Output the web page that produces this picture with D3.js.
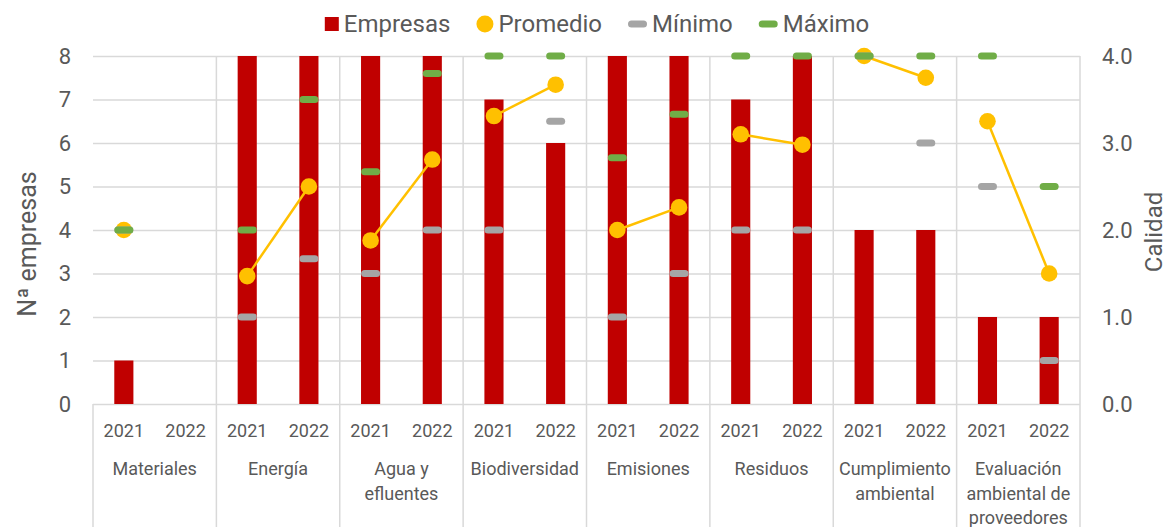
<!DOCTYPE html>
<html>
<head>
<meta charset="utf-8">
<script src="https://cdn.jsdelivr.net/npm/d3@7"></script>
<style>
  body { margin: 0; background: #fff; }
  svg text { font-family: Roboto, "Noto Sans", sans-serif; fill: #595959; }
</style>
</head>
<body>
<div id="viz"></div>
<script>
// data (pairs are [2021, 2022])
const years = ['2021', '2022']
const categories = ['Materiales', 'Energía', 'Agua y efluentes', 'Biodiversidad', 'Emisiones',
  'Residuos', 'Cumplimiento ambiental', 'Evaluación ambiental de proveedores']
const categoryLines = [['Materiales'], ['Energía'], ['Agua y', 'efluentes'], ['Biodiversidad'],
  ['Emisiones'], ['Residuos'], ['Cumplimiento', 'ambiental'], ['Evaluación', 'ambiental de', 'proveedores']]
const empresas = [[1, 0], [8, 8], [8, 8], [7, 6], [8, 8], [7, 8], [4, 4], [2, 2]]
const promedio = [[2.0, null], [1.47, 2.5], [1.88, 2.81], [3.31, 3.67], [2.0, 2.26], [3.1, 2.98], [4.0, 3.75], [3.25, 1.5]]
const minimo = [[2.0, null], [1.0, 1.67], [1.5, 2.0], [2.0, 3.25], [1.0, 1.5], [2.0, 2.0], [4.0, 3.0], [2.5, 0.5]]
const maximo = [[2.0, null], [2.0, 3.5], [2.67, 3.8], [4.0, 4.0], [2.83, 3.33], [4.0, 4.0], [4.0, 4.0], [4.0, 2.5]]
const leftTicks = [0, 1, 2, 3, 4, 5, 6, 7, 8]
const rightTicks = [0, 1, 2, 3, 4]

const colors = { empresas: '#C00000', promedio: '#FFC000', minimo: '#A5A5A5', maximo: '#70AD47', grid: '#D9D9D9' }

const W = 1170, H = 527
const plot = { left: 93, right: 1080, top: 56, bottom: 404 }

const svg = d3.select('#viz').append('svg').attr('width', W).attr('height', H)

const xGroup = d3.scaleBand().domain(categories).range([plot.left, plot.right]).padding(0)
const xYear = d3.scaleBand().domain(years).range([0, xGroup.bandwidth()])
  .paddingInner(0.69).paddingOuter(0.345)
const yLeft = d3.scaleLinear().domain([0, 8]).range([plot.bottom, plot.top])
const yRight = d3.scaleLinear().domain([0, 4]).range([plot.bottom, plot.top])

const cx = (ci, yi) => xGroup(categories[ci]) + xYear(years[yi]) + xYear.bandwidth() / 2

// horizontal gridlines
svg.append('g')
  .attr('transform', `translate(${plot.left},0)`)
  .call(d3.axisLeft(yLeft).tickValues(leftTicks).tickSize(-(plot.right - plot.left)).tickFormat(''))
  .call(g => g.select('.domain').remove())
  .selectAll('.tick line').attr('stroke', colors.grid).attr('stroke-width', 1.5)

// vertical separators
const seps = categories.map(c => xGroup(c)).concat([plot.right])
svg.append('g').selectAll('line').data(seps).join('line')
  .attr('x1', d => d).attr('x2', d => d)
  .attr('y1', d => d === plot.left ? plot.bottom : plot.top)
  .attr('y2', H)
  .attr('stroke', colors.grid).attr('stroke-width', 1.5)

// left axis
svg.append('g')
  .attr('transform', `translate(${plot.left - 22},0)`)
  .call(d3.axisLeft(yLeft).tickValues(leftTicks).tickSize(0).tickPadding(0).tickFormat(d3.format('d')))
  .call(g => g.select('.domain').remove())
  .selectAll('text').attr('font-size', 22).attr('fill', '#595959')

// right axis
svg.append('g')
  .attr('transform', `translate(${plot.right + 22},0)`)
  .call(d3.axisRight(yRight).tickValues(rightTicks).tickSize(0).tickPadding(0).tickFormat(d3.format('.1f')))
  .call(g => g.select('.domain').remove())
  .selectAll('text').attr('font-size', 22).attr('fill', '#595959')

// axis titles
svg.append('text')
  .attr('transform', `translate(36, 244) rotate(-90)`)
  .attr('text-anchor', 'middle').attr('font-size', 25)
  .text('Nª empresas')
svg.append('text')
  .attr('transform', `translate(1162, 232) rotate(-90)`)
  .attr('text-anchor', 'middle').attr('font-size', 24)
  .text('Calidad')

// year labels + category labels
categories.forEach((c, ci) => {
  const g = svg.append('g').attr('transform', `translate(${xGroup(c)},${plot.bottom})`)
  g.call(d3.axisBottom(xYear).tickSize(0).tickPadding(0))
    .call(a => a.select('.domain').remove())
    .selectAll('text').attr('font-size', 18).attr('fill', '#595959').attr('dy', null).attr('y', 33)

  g.append('text')
    .attr('x', xGroup.bandwidth() / 2)
    .attr('text-anchor', 'middle').attr('font-size', 18)
    .selectAll('tspan').data(categoryLines[ci]).join('tspan')
    .attr('x', xGroup.bandwidth() / 2)
    .attr('y', (d, i) => 71 + i * 24.5)
    .text(d => d)
})

// flatten
const points = []
categories.forEach((c, ci) => years.forEach((yr, yi) => points.push({
  ci, yi, empresas: empresas[ci][yi], promedio: promedio[ci][yi], minimo: minimo[ci][yi], maximo: maximo[ci][yi]
})))

// bars
svg.append('g').selectAll('rect').data(points.filter(d => d.empresas > 0)).join('rect')
  .attr('x', d => cx(d.ci, d.yi) - xYear.bandwidth() / 2)
  .attr('width', xYear.bandwidth())
  .attr('y', d => yLeft(d.empresas))
  .attr('height', d => yLeft(0) - yLeft(d.empresas))
  .attr('fill', colors.empresas)

// promedio lines (one per category)
const line = d3.line().defined(d => d.promedio != null)
  .x(d => cx(d.ci, d.yi)).y(d => yRight(d.promedio))
svg.append('g').selectAll('path').data(d3.groups(points, d => d.ci)).join('path')
  .attr('d', d => line(d[1]))
  .attr('fill', 'none').attr('stroke', colors.promedio).attr('stroke-width', 2.5)
svg.append('g').selectAll('circle').data(points.filter(d => d.promedio != null)).join('circle')
  .attr('cx', d => cx(d.ci, d.yi)).attr('cy', d => yRight(d.promedio)).attr('r', 8.3)
  .attr('fill', colors.promedio)

// min / max dashes
function dashes (key, color) {
  svg.append('g').selectAll('rect').data(points.filter(d => d[key] != null)).join('rect')
    .attr('x', d => cx(d.ci, d.yi) - 9.5).attr('width', 19)
    .attr('y', d => yRight(d[key]) - 3.5).attr('height', 7)
    .attr('rx', 3.5).attr('fill', color)
}
dashes('minimo', colors.minimo)
dashes('maximo', colors.maximo)

// legend
const legendItems = [
  { label: 'Empresas', type: 'square', color: colors.empresas },
  { label: 'Promedio', type: 'circle', color: colors.promedio },
  { label: 'Mínimo', type: 'dash', color: colors.minimo },
  { label: 'Máximo', type: 'dash', color: colors.maximo }
]
const legend = svg.append('g')
let lx = 0
legendItems.forEach(it => {
  const g = legend.append('g').attr('transform', `translate(${lx},0)`)
  let sw
  if (it.type === 'square') {
    g.append('rect').attr('x', 0).attr('y', 17).attr('width', 14).attr('height', 14).attr('fill', it.color)
    sw = 14
  } else if (it.type === 'circle') {
    g.append('circle').attr('cx', 8.5).attr('cy', 24).attr('r', 8.5).attr('fill', it.color)
    sw = 17
  } else {
    g.append('rect').attr('x', 0).attr('y', 20.5).attr('width', 19).attr('height', 7).attr('rx', 3.5).attr('fill', it.color)
    sw = 19
  }
  const t = g.append('text').attr('x', sw + 5).attr('y', 32).attr('font-size', 24).text(it.label)
  lx += sw + 5 + t.node().getComputedTextLength() + 26
})
const lw = lx - 26
legend.attr('transform', `translate(${597 - lw / 2},0)`)
</script>
</body>
</html>
